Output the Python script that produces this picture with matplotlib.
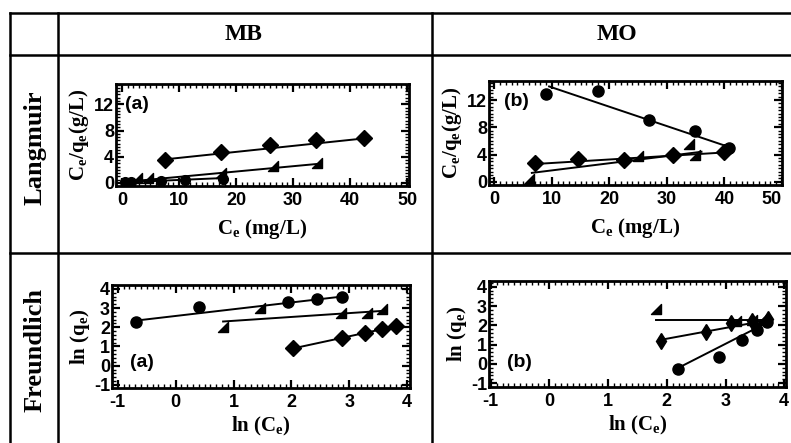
import matplotlib
matplotlib.use("Agg")
import matplotlib.pyplot as plt
from matplotlib.font_manager import FontProperties
from matplotlib.path import Path
from matplotlib.ticker import MultipleLocator

plt.rcParams["axes.unicode_minus"] = False

W, H = 791, 443

# --- data ----------------------------------------------------------------
# Langmuir, MB
lm_mb_circ_x = [0.5, 1.5, 6.8, 11.0, 17.7]
lm_mb_circ_y = [0.1, 0.15, 0.35, 0.45, 0.65]
lm_mb_circ_fit_x = [0.3, 17.7]
lm_mb_circ_fit_y = [0.1, 0.75]
lm_mb_tri_x = [2.6, 4.5, 17.3, 26.5, 34.2]
lm_mb_tri_y = [0.8, 0.8, 1.5, 2.6, 3.1]
lm_mb_tri_fit_x = [2.2, 34.2]
lm_mb_tri_fit_y = [0.3, 2.9]
lm_mb_dia_x = [7.5, 17.3, 26.0, 34.0, 42.5]
lm_mb_dia_y = [3.5, 4.8, 5.8, 6.6, 6.9]
lm_mb_dia_fit_x = [7.5, 42.5]
lm_mb_dia_fit_y = [3.6, 6.8]

# Langmuir, MO
lm_mo_circ_x = [9.0, 18.0, 26.8, 34.8, 40.8]
lm_mo_circ_y = [12.9, 13.3, 9.0, 7.4, 4.9]
lm_mo_circ_fit_x = [9.5, 40.8]
lm_mo_circ_fit_y = [14.0, 5.1]
lm_mo_tri_x = [6.0, 25.0, 33.8, 34.8]
lm_mo_tri_y = [0.35, 3.8, 5.6, 3.9]
lm_mo_tri_fit_x = [6.5, 36.0]
lm_mo_tri_fit_y = [1.3, 4.4]
lm_mo_dia_x = [7.0, 14.5, 22.6, 31.0, 40.0]
lm_mo_dia_y = [2.8, 3.3, 3.2, 4.0, 4.3]
lm_mo_dia_fit_x = [7.0, 40.0]
lm_mo_dia_fit_y = [2.6, 4.3]

# Freundlich, MB
fr_mb_circ_x = [-0.68, 0.4, 1.95, 2.45, 2.88]
fr_mb_circ_y = [2.3, 3.04, 3.3, 3.47, 3.55]
fr_mb_circ_fit_x = [-0.68, 2.88]
fr_mb_circ_fit_y = [2.35, 3.6]
fr_mb_tri_x = [0.82, 1.45, 2.85, 3.3, 3.56]
fr_mb_tri_y = [2.0, 3.0, 2.72, 2.75, 2.95]
fr_mb_tri_fit_x = [0.82, 3.56]
fr_mb_tri_fit_y = [2.3, 2.85]
fr_mb_dia_x = [2.03, 2.88, 3.28, 3.57, 3.8]
fr_mb_dia_y = [0.9, 1.42, 1.7, 1.9, 2.05]
fr_mb_dia_fit_x = [2.03, 3.8]
fr_mb_dia_fit_y = [0.9, 2.05]

# Freundlich, MO
fr_mo_circ_x = [2.19, 2.88, 3.28, 3.53, 3.70]
fr_mo_circ_y = [-0.27, 0.38, 1.25, 1.75, 2.15]
fr_mo_circ_fit_x = [2.2, 3.65]
fr_mo_circ_fit_y = [-0.2, 2.05]
fr_mo_tri_x = [1.82, 3.18, 3.45, 3.62]
fr_mo_tri_y = [2.85, 2.25, 2.3, 2.35]
fr_mo_tri_fit_x = [1.82, 3.75]
fr_mo_tri_fit_y = [2.28, 2.28]
fr_mo_dia_x = [1.9, 2.67, 3.1, 3.45, 3.72]
fr_mo_dia_y = [1.2, 1.67, 2.1, 2.2, 2.35]
fr_mo_dia_fit_x = [1.9, 3.6]
fr_mo_dia_fit_y = [1.25, 2.2]

col_titles = ["MB", "MO"]
row_titles = ["Langmuir", "Freundlich"]

# right-angle triangle marker (like the scan)
TRI = Path([(-1, -1), (1, -1), (1, 1), (-1, -1)],
           [Path.MOVETO, Path.LINETO, Path.LINETO, Path.CLOSEPOLY])

TICK_FONT = {"family": "Liberation Sans", "weight": "bold", "size": 13}
LABEL_FONT = {"family": "Liberation Serif", "weight": "bold", "size": 15}
PANEL_FONT = {"family": "Liberation Sans", "weight": "bold", "size": 14}


def px_axes(fig, x0, y0, x1, y1):
    return fig.add_axes([x0 / W, 1 - y1 / H, (x1 - x0) / W, (y1 - y0) / H])


def style_axes(ax, xmaj, xmin, ymaj, ymin):
    ax.xaxis.set_major_locator(MultipleLocator(xmaj))
    ax.xaxis.set_minor_locator(MultipleLocator(xmin))
    ax.yaxis.set_major_locator(MultipleLocator(ymaj))
    ax.yaxis.set_minor_locator(MultipleLocator(ymin))
    ax.tick_params(which="both", direction="in", top=True, right=True,
                   color="black")
    ax.tick_params(which="major", length=5.5, width=1.6)
    ax.tick_params(which="minor", length=3, width=1.0)
    ax.tick_params(axis="x", which="major", pad=4)
    ax.tick_params(axis="y", which="major", pad=1.5)
    for s in ax.spines.values():
        s.set_linewidth(2.0)
    fp = FontProperties(**TICK_FONT)
    for lab in ax.get_xticklabels() + ax.get_yticklabels():
        lab.set_fontproperties(fp)
    ax.set_facecolor("none")


def series(ax, x, y, fx, fy, marker, ms):
    ax.plot(fx, fy, color="black", lw=1.4, zorder=2)
    ax.plot(x, y, ls="none", marker=marker, ms=ms, color="black", zorder=3)


fig = plt.figure(figsize=(W / 100, H / 100), dpi=100)

# table grid
bg = fig.add_axes([0, 0, 1, 1])
bg.set_xlim(0, W)
bg.set_ylim(H, 0)
bg.axis("off")
lw = 1.8
bg.plot([10, W], [13, 13], color="black", lw=lw)
bg.plot([10, W], [55, 55], color="black", lw=lw)
bg.plot([10, W], [253, 253], color="black", lw=lw)
bg.plot([10, 10], [13, H], color="black", lw=lw)
bg.plot([58, 58], [13, H], color="black", lw=lw)
bg.plot([432, 432], [13, H], color="black", lw=lw)
hdr = {"family": "Liberation Serif", "weight": "bold", "size": 17}
rowhdr = {"family": "Liberation Serif", "weight": "bold", "size": 19}
bg.text(244, 34, col_titles[0], ha="center", va="center", fontdict=hdr)
bg.text(617, 34, col_titles[1], ha="center", va="center", fontdict=hdr)
bg.text(35, 148, row_titles[0], ha="center", va="center", rotation=90, fontdict=rowhdr)
bg.text(35, 350, row_titles[1], ha="center", va="center", rotation=90, fontdict=rowhdr)

# Langmuir MB
ax = px_axes(fig, 116, 84, 409, 186)
series(ax, lm_mb_circ_x, lm_mb_circ_y, lm_mb_circ_fit_x, lm_mb_circ_fit_y, "o", 7)
series(ax, lm_mb_tri_x, lm_mb_tri_y, lm_mb_tri_fit_x, lm_mb_tri_fit_y, TRI, 7)
series(ax, lm_mb_dia_x, lm_mb_dia_y, lm_mb_dia_fit_x, lm_mb_dia_fit_y, "D", 8)
ax.set_xlim(-1.05, 50.35)
ax.set_ylim(-0.46, 15.1)
style_axes(ax, 10, 1, 4, 0.5)
ax.set_xlabel("C$_\\mathregular{e}$ (mg/L)", fontdict=LABEL_FONT, labelpad=6)
ax.set_ylabel("C$_\\mathregular{e}$/q$_\\mathregular{e}$(g/L)", fontdict=LABEL_FONT, labelpad=2)
ax.text(0.03, 0.80, "(a)", transform=ax.transAxes, fontdict=PANEL_FONT, va="center")

# Langmuir MO
ax = px_axes(fig, 489, 81, 782, 185)
series(ax, lm_mo_circ_x, lm_mo_circ_y, lm_mo_circ_fit_x, lm_mo_circ_fit_y, "o", 8)
series(ax, lm_mo_tri_x, lm_mo_tri_y, lm_mo_tri_fit_x, lm_mo_tri_fit_y, TRI, 7)
series(ax, lm_mo_dia_x, lm_mo_dia_y, lm_mo_dia_fit_x, lm_mo_dia_fit_y, "D", 8)
ax.set_xlim(-0.95, 50.0)
ax.set_ylim(-0.48, 14.8)
style_axes(ax, 10, 1, 4, 0.5)
ax.set_xlabel("C$_\\mathregular{e}$ (mg/L)", fontdict=LABEL_FONT, labelpad=6)
ax.set_ylabel("C$_\\mathregular{e}$/q$_\\mathregular{e}$(g/L)", fontdict=LABEL_FONT, labelpad=2)
ax.text(0.05, 0.80, "(b)", transform=ax.transAxes, fontdict=PANEL_FONT, va="center")
# keep the last tick label inside the picture, as in the scan
ax.get_xticklabels()[-2].set_horizontalalignment("right")

# Freundlich MB
ax = px_axes(fig, 112, 285, 410, 388)
series(ax, fr_mb_circ_x, fr_mb_circ_y, fr_mb_circ_fit_x, fr_mb_circ_fit_y, "o", 8)
series(ax, fr_mb_tri_x, fr_mb_tri_y, fr_mb_tri_fit_x, fr_mb_tri_fit_y, TRI, 7)
series(ax, fr_mb_dia_x, fr_mb_dia_y, fr_mb_dia_fit_x, fr_mb_dia_fit_y, "D", 8)
ax.set_xlim(-1.1, 4.05)
ax.set_ylim(-1.16, 4.2)
style_axes(ax, 1, 0.1, 1, 0.2)
ax.set_xlabel("ln (C$_\\mathregular{e}$)", fontdict=LABEL_FONT, labelpad=3)
ax.set_ylabel("ln (q$_\\mathregular{e}$)", fontdict=LABEL_FONT, labelpad=1)
ax.text(0.06, 0.25, "(a)", transform=ax.transAxes, fontdict=PANEL_FONT, va="center")

# Freundlich MO
ax = px_axes(fig, 489, 281, 786, 387)
series(ax, fr_mo_circ_x, fr_mo_circ_y, fr_mo_circ_fit_x, fr_mo_circ_fit_y, "o", 8)
series(ax, fr_mo_tri_x, fr_mo_tri_y, fr_mo_tri_fit_x, fr_mo_tri_fit_y, TRI, 7)
series(ax, fr_mo_dia_x, fr_mo_dia_y, fr_mo_dia_fit_x, fr_mo_dia_fit_y, "d", 8)
ax.set_xlim(-1.03, 4.03)
ax.set_ylim(-1.2, 4.3)
style_axes(ax, 1, 0.1, 1, 0.2)
ax.set_xlabel("ln (C$_\\mathregular{e}$)", fontdict=LABEL_FONT, labelpad=3)
ax.set_ylabel("ln (q$_\\mathregular{e}$)", fontdict=LABEL_FONT, labelpad=1)
ax.text(0.06, 0.23, "(b)", transform=ax.transAxes, fontdict=PANEL_FONT, va="center")

fig.savefig("out.png", dpi=100)
plt.close(fig)
